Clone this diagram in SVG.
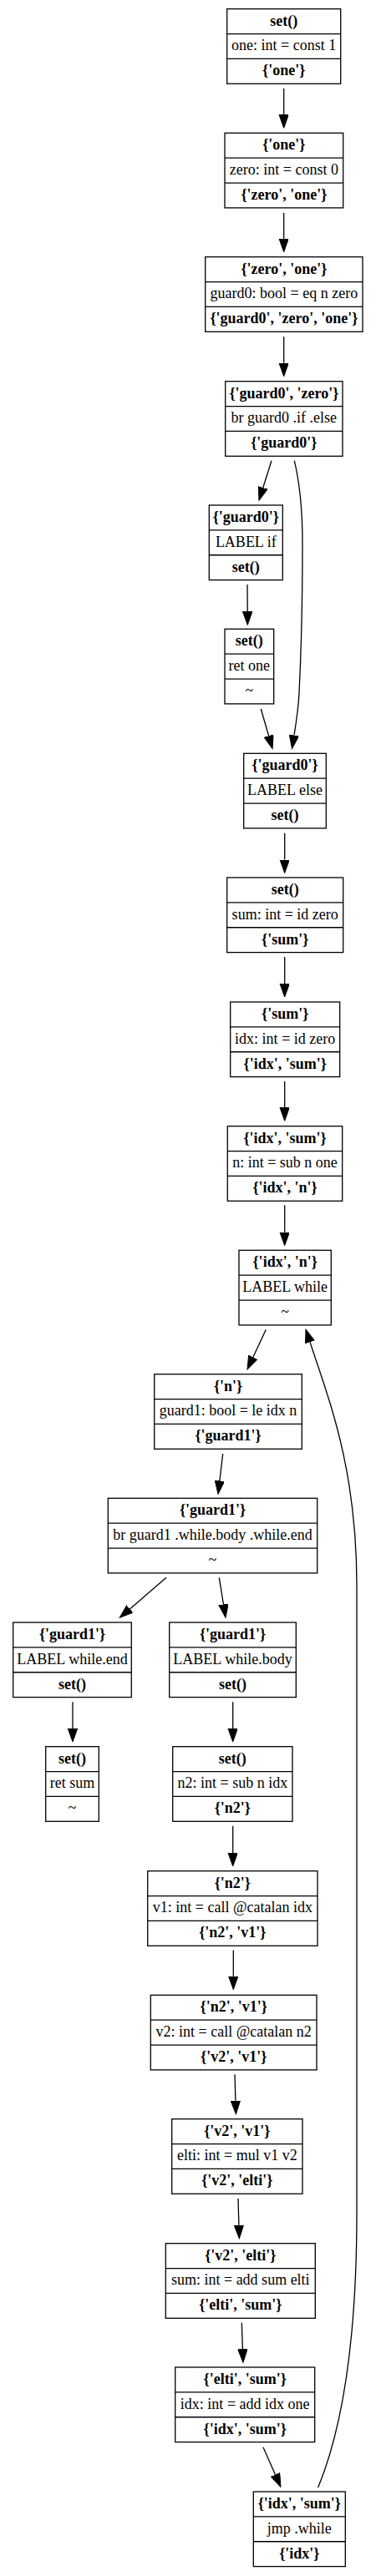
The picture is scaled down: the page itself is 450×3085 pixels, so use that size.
<svg xmlns="http://www.w3.org/2000/svg" width="450" height="3085" viewBox="0 0 450 3085">
<style>
rect.b{fill:#fff;stroke:#000;stroke-width:1.3}
line.s{stroke:#000;stroke-width:1.3}
text{font-family:"Liberation Serif","Times New Roman",serif;font-size:18px;text-anchor:middle;fill:#000}
text.h{font-weight:bold}
.e{fill:none;stroke:#000;stroke-width:1.3}
</style>
<defs>
<marker id="ah" markerUnits="userSpaceOnUse" markerWidth="17" markerHeight="12" refX="0" refY="5.7" orient="auto">
<path d="M0,0 L16,5.7 L0,11.4 z" fill="#000" stroke="#000" stroke-width="1"/>
</marker>
</defs>
<rect width="450" height="3085" fill="#fff"/>
<g id="connectors">
<path class="e" marker-end="url(#ah)" d="M339.7,106 L339.7,137.3"/>
<path class="e" marker-end="url(#ah)" d="M339.7,255 L339.7,285.7"/>
<path class="e" marker-end="url(#ah)" d="M339.7,403.3 L339.7,434.7"/>
<path class="e" marker-end="url(#ah)" d="M325,551.7 L314.8,584"/>
<path class="e" marker-end="url(#ah)" d="M352.3,551.7 C359,580 362,610 362,650 C362,720 360,790 358,830 C357,850 354,868 352,880.7"/>
<path class="e" marker-end="url(#ah)" d="M296,700 L296.2,732.3"/>
<path class="e" marker-end="url(#ah)" d="M312.3,849 L321.6,881.3"/>
<path class="e" marker-end="url(#ah)" d="M340.7,997.7 L340.7,1029.5"/>
<path class="e" marker-end="url(#ah)" d="M340.7,1146 L340.7,1178"/>
<path class="e" marker-end="url(#ah)" d="M340.7,1295 L340.7,1326.3"/>
<path class="e" marker-end="url(#ah)" d="M340.7,1443.3 L340.7,1475.7"/>
<path class="e" marker-end="url(#ah)" d="M318.3,1592.3 L302.8,1625.5"/>
<path class="e" marker-end="url(#ah)" d="M266.7,1741 L262.9,1773.4"/>
<path class="e" marker-end="url(#ah)" d="M199,1889.3 L155.4,1926.9"/>
<path class="e" marker-end="url(#ah)" d="M262.3,1889.3 L267.5,1921.5"/>
<path class="e" marker-end="url(#ah)" d="M87,2038.3 L87,2070"/>
<path class="e" marker-end="url(#ah)" d="M278.7,2038.3 L278.7,2070"/>
<path class="e" marker-end="url(#ah)" d="M278.7,2186.7 L278.7,2219"/>
<path class="e" marker-end="url(#ah)" d="M279.3,2335.5 L279.3,2366.7"/>
<path class="e" marker-end="url(#ah)" d="M281,2484.3 L281.9,2515.7"/>
<path class="e" marker-end="url(#ah)" d="M285,2633 L285.9,2664.7"/>
<path class="e" marker-end="url(#ah)" d="M289.3,2781.7 L290.4,2813.3"/>
<path class="e" marker-end="url(#ah)" d="M315,2930.7 L329.5,2963.7"/>
<path class="e" marker-end="url(#ah)" d="M380.7,2979 C405,2920 427,2820 427,2650 L427,1900 C427,1760 395,1680 371,1607.3"/>
</g>
<g id="n1" transform="translate(271.7,10.7)"><rect class="b" width="136" height="89.6"/><line class="s" x1="0" y1="29.87" x2="136" y2="29.87"/><line class="s" x1="0" y1="59.73" x2="136" y2="59.73"/><text class="h" x="68" y="19.9">set()</text><text x="68" y="49.8">one: int = const 1</text><text class="h" x="68" y="79.7">{'one'}</text></g>
<g id="n2" transform="translate(269,159.3)"><rect class="b" width="141.7" height="89.6"/><line class="s" x1="0" y1="29.87" x2="141.7" y2="29.87"/><line class="s" x1="0" y1="59.73" x2="141.7" y2="59.73"/><text class="h" x="70.85" y="19.9">{'one'}</text><text x="70.85" y="49.8">zero: int = const 0</text><text class="h" x="70.85" y="79.7">{'zero', 'one'}</text></g>
<g id="n3" transform="translate(245.7,307.7)"><rect class="b" width="188.3" height="89.6"/><line class="s" x1="0" y1="29.87" x2="188.3" y2="29.87"/><line class="s" x1="0" y1="59.73" x2="188.3" y2="59.73"/><text class="h" x="94.15" y="19.9">{'zero', 'one'}</text><text x="94.15" y="49.8">guard0: bool = eq n zero</text><text class="h" x="94.15" y="79.7">{'guard0', 'zero', 'one'}</text></g>
<g id="n4" transform="translate(269.7,456.7)"><rect class="b" width="140.3" height="89.6"/><line class="s" x1="0" y1="29.87" x2="140.3" y2="29.87"/><line class="s" x1="0" y1="59.73" x2="140.3" y2="59.73"/><text class="h" x="70.15" y="19.9">{'guard0', 'zero'}</text><text x="70.15" y="49.8">br guard0 .if .else</text><text class="h" x="70.15" y="79.7">{'guard0'}</text></g>
<g id="n5" transform="translate(250.3,605)"><rect class="b" width="88" height="89.6"/><line class="s" x1="0" y1="29.87" x2="88" y2="29.87"/><line class="s" x1="0" y1="59.73" x2="88" y2="59.73"/><text class="h" x="44" y="19.9">{'guard0'}</text><text x="44" y="49.8">LABEL if</text><text class="h" x="44" y="79.7">set()</text></g>
<g id="n6" transform="translate(269,753.3)"><rect class="b" width="58.7" height="89.6"/><line class="s" x1="0" y1="29.87" x2="58.7" y2="29.87"/><line class="s" x1="0" y1="59.73" x2="58.7" y2="59.73"/><text class="h" x="29.35" y="19.9">set()</text><text x="29.35" y="49.8">ret one</text><text x="29.35" y="79.7">~</text></g>
<g id="n7" transform="translate(291.7,902.3)"><rect class="b" width="98.6" height="89.6"/><line class="s" x1="0" y1="29.87" x2="98.6" y2="29.87"/><line class="s" x1="0" y1="59.73" x2="98.6" y2="59.73"/><text class="h" x="49.3" y="19.9">{'guard0'}</text><text x="49.3" y="49.8">LABEL else</text><text class="h" x="49.3" y="79.7">set()</text></g>
<g id="n8" transform="translate(271.7,1051)"><rect class="b" width="139" height="89.6"/><line class="s" x1="0" y1="29.87" x2="139" y2="29.87"/><line class="s" x1="0" y1="59.73" x2="139" y2="59.73"/><text class="h" x="69.5" y="19.9">set()</text><text x="69.5" y="49.8">sum: int = id zero</text><text class="h" x="69.5" y="79.7">{'sum'}</text></g>
<g id="n9" transform="translate(275.7,1200)"><rect class="b" width="131" height="89.6"/><line class="s" x1="0" y1="29.87" x2="131" y2="29.87"/><line class="s" x1="0" y1="59.73" x2="131" y2="59.73"/><text class="h" x="65.5" y="19.9">{'sum'}</text><text x="65.5" y="49.8">idx: int = id zero</text><text class="h" x="65.5" y="79.7">{'idx', 'sum'}</text></g>
<g id="n10" transform="translate(272.3,1348.7)"><rect class="b" width="137.4" height="89.6"/><line class="s" x1="0" y1="29.87" x2="137.4" y2="29.87"/><line class="s" x1="0" y1="59.73" x2="137.4" y2="59.73"/><text class="h" x="68.7" y="19.9">{'idx', 'sum'}</text><text x="68.7" y="49.8">n: int = sub n one</text><text class="h" x="68.7" y="79.7">{'idx', 'n'}</text></g>
<g id="n11" transform="translate(286,1497.3)"><rect class="b" width="110.3" height="89.6"/><line class="s" x1="0" y1="29.87" x2="110.3" y2="29.87"/><line class="s" x1="0" y1="59.73" x2="110.3" y2="59.73"/><text class="h" x="55.15" y="19.9">{'idx', 'n'}</text><text x="55.15" y="49.8">LABEL while</text><text x="55.15" y="79.7">~</text></g>
<g id="n12" transform="translate(184.7,1645.7)"><rect class="b" width="176.6" height="89.6"/><line class="s" x1="0" y1="29.87" x2="176.6" y2="29.87"/><line class="s" x1="0" y1="59.73" x2="176.6" y2="59.73"/><text class="h" x="88.3" y="19.9">{'n'}</text><text x="88.3" y="49.8">guard1: bool = le idx n</text><text class="h" x="88.3" y="79.7">{'guard1'}</text></g>
<g id="n13" transform="translate(129.3,1794.3)"><rect class="b" width="250.4" height="89.6"/><line class="s" x1="0" y1="29.87" x2="250.4" y2="29.87"/><line class="s" x1="0" y1="59.73" x2="250.4" y2="59.73"/><text class="h" x="125.2" y="19.9">{'guard1'}</text><text x="125.2" y="49.8">br guard1 .while.body .while.end</text><text x="125.2" y="79.7">~</text></g>
<g id="n14" transform="translate(15.7,1943)"><rect class="b" width="141.6" height="89.6"/><line class="s" x1="0" y1="29.87" x2="141.6" y2="29.87"/><line class="s" x1="0" y1="59.73" x2="141.6" y2="59.73"/><text class="h" x="70.8" y="19.9">{'guard1'}</text><text x="70.8" y="49.8">LABEL while.end</text><text class="h" x="70.8" y="79.7">set()</text></g>
<g id="n15" transform="translate(202.7,1943)"><rect class="b" width="151.6" height="89.6"/><line class="s" x1="0" y1="29.87" x2="151.6" y2="29.87"/><line class="s" x1="0" y1="59.73" x2="151.6" y2="59.73"/><text class="h" x="75.8" y="19.9">{'guard1'}</text><text x="75.8" y="49.8">LABEL while.body</text><text class="h" x="75.8" y="79.7">set()</text></g>
<g id="n16" transform="translate(54.7,2091.7)"><rect class="b" width="63.6" height="89.6"/><line class="s" x1="0" y1="29.87" x2="63.6" y2="29.87"/><line class="s" x1="0" y1="59.73" x2="63.6" y2="59.73"/><text class="h" x="31.8" y="19.9">set()</text><text x="31.8" y="49.8">ret sum</text><text x="31.8" y="79.7">~</text></g>
<g id="n17" transform="translate(206.7,2091.7)"><rect class="b" width="143.3" height="89.6"/><line class="s" x1="0" y1="29.87" x2="143.3" y2="29.87"/><line class="s" x1="0" y1="59.73" x2="143.3" y2="59.73"/><text class="h" x="71.65" y="19.9">set()</text><text x="71.65" y="49.8">n2: int = sub n idx</text><text class="h" x="71.65" y="79.7">{'n2'}</text></g>
<g id="n18" transform="translate(176.7,2240.7)"><rect class="b" width="203.3" height="89.6"/><line class="s" x1="0" y1="29.87" x2="203.3" y2="29.87"/><line class="s" x1="0" y1="59.73" x2="203.3" y2="59.73"/><text class="h" x="101.65" y="19.9">{'n2'}</text><text x="101.65" y="49.8">v1: int = call @catalan idx</text><text class="h" x="101.65" y="79.7">{'n2', 'v1'}</text></g>
<g id="n19" transform="translate(180.3,2389.3)"><rect class="b" width="198.7" height="89.6"/><line class="s" x1="0" y1="29.87" x2="198.7" y2="29.87"/><line class="s" x1="0" y1="59.73" x2="198.7" y2="59.73"/><text class="h" x="99.35" y="19.9">{'n2', 'v1'}</text><text x="99.35" y="49.8">v2: int = call @catalan n2</text><text class="h" x="99.35" y="79.7">{'v2', 'v1'}</text></g>
<g id="n20" transform="translate(205.7,2537.7)"><rect class="b" width="156.3" height="89.6"/><line class="s" x1="0" y1="29.87" x2="156.3" y2="29.87"/><line class="s" x1="0" y1="59.73" x2="156.3" y2="59.73"/><text class="h" x="78.15" y="19.9">{'v2', 'v1'}</text><text x="78.15" y="49.8">elti: int = mul v1 v2</text><text class="h" x="78.15" y="79.7">{'v2', 'elti'}</text></g>
<g id="n21" transform="translate(198.3,2686.7)"><rect class="b" width="179" height="89.6"/><line class="s" x1="0" y1="29.87" x2="179" y2="29.87"/><line class="s" x1="0" y1="59.73" x2="179" y2="59.73"/><text class="h" x="89.5" y="19.9">{'v2', 'elti'}</text><text x="89.5" y="49.8">sum: int = add sum elti</text><text class="h" x="89.5" y="79.7">{'elti', 'sum'}</text></g>
<g id="n22" transform="translate(209.7,2835)"><rect class="b" width="167" height="89.6"/><line class="s" x1="0" y1="29.87" x2="167" y2="29.87"/><line class="s" x1="0" y1="59.73" x2="167" y2="59.73"/><text class="h" x="83.5" y="19.9">{'elti', 'sum'}</text><text x="83.5" y="49.8">idx: int = add idx one</text><text class="h" x="83.5" y="79.7">{'idx', 'sum'}</text></g>
<g id="n23" transform="translate(303.3,2984)"><rect class="b" width="110" height="89.6"/><line class="s" x1="0" y1="29.87" x2="110" y2="29.87"/><line class="s" x1="0" y1="59.73" x2="110" y2="59.73"/><text class="h" x="55" y="19.9">{'idx', 'sum'}</text><text x="55" y="49.8">jmp .while</text><text class="h" x="55" y="79.7">{'idx'}</text></g>
</svg>
